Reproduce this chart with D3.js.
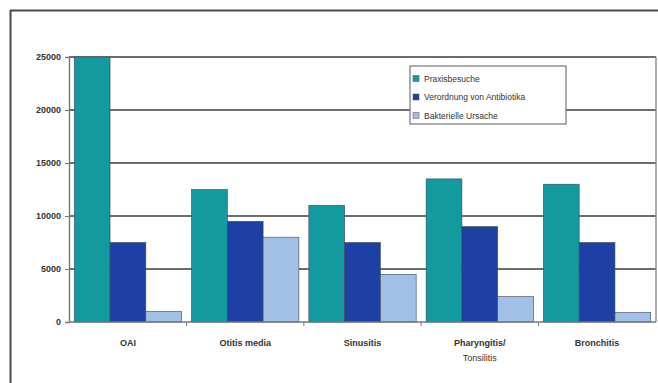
<!DOCTYPE html>
<html><head><meta charset="utf-8">
<script src="https://cdn.jsdelivr.net/npm/d3@7"></script>
<style>
html,body{margin:0;padding:0;background:#fff;}
svg{display:block;font-family:"Liberation Sans",Arial,sans-serif;}
</style></head>
<body>
<svg id="c" width="658" height="383"></svg>
<script>
const categories = ["OAI", "Otitis media", "Sinusitis", "Pharyngitis/\nTonsilitis", "Bronchitis"];
const seriesNames = ["Praxisbesuche", "Verordnung von Antibiotika", "Bakterielle Ursache"];
const praxisbesuche = [25000, 12500, 11000, 13500, 13000];
const antibiotika = [7500, 9500, 7500, 9000, 7500];
const bakteriell = [1000, 8000, 4500, 2400, 900];
const yTicks = [0, 5000, 10000, 15000, 20000, 25000];
const colors = ["#139a9e", "#1e40a4", "#a2bfe6"];

const series = [praxisbesuche, antibiotika, bakteriell];
const svg = d3.select("#c");
const L = 69, R = 656, T = 57, B = 322;

// outer frame (top and left only)
svg.append("line").attr("x1", 10).attr("x2", 658).attr("y1", 10.5).attr("y2", 10.5).attr("stroke", "#4a4a4a").attr("stroke-width", 2);
svg.append("line").attr("x1", 10.5).attr("x2", 10.5).attr("y1", 10).attr("y2", 383).attr("stroke", "#4a4a4a").attr("stroke-width", 2);

const y = d3.scaleLinear().domain([0, 25000]).range([B, T]);
const x0 = d3.scaleBand().domain(categories).range([L, R]).paddingInner(0.085).paddingOuter(0.045);
const x1 = d3.scaleBand().domain(d3.range(3)).range([0, x0.bandwidth()]);

// gridlines
svg.append("g").selectAll("line").data(yTicks.filter(d => d > 0)).join("line")
  .attr("x1", L).attr("x2", R).attr("y1", d => y(d)).attr("y2", d => y(d))
  .attr("stroke", "#6e6e6e").attr("stroke-width", 1.8);
// right border
svg.append("line").attr("x1", R).attr("x2", R).attr("y1", T).attr("y2", B).attr("stroke", "#8a8a8a").attr("stroke-width", 1.4);

// bars
const g = svg.append("g");
categories.forEach((c, i) => {
  series.forEach((s, j) => {
    g.append("rect")
      .attr("x", x0(c) + x1(j))
      .attr("y", y(s[i]))
      .attr("width", x1.bandwidth())
      .attr("height", B - y(s[i]))
      .attr("fill", colors[j])
      .attr("stroke", "#3a4a5a").attr("stroke-width", 0.6);
  });
});

// y axis
const yAxis = d3.axisLeft(y).tickValues(yTicks).tickSize(4).tickPadding(4).tickFormat(d3.format("d"));
const ya = svg.append("g").attr("transform", `translate(${L},0)`).call(yAxis);
ya.select(".domain").attr("stroke", "#777").attr("stroke-width", 1.4);
ya.selectAll(".tick line").attr("stroke", "#777");
ya.selectAll("text").attr("font-size", 9).attr("font-weight", "bold").attr("fill", "#333");

// x axis
const xa = svg.append("g").attr("transform", `translate(0,${B})`);
xa.append("line").attr("x1", L).attr("x2", R).attr("y1", 0).attr("y2", 0).attr("stroke", "#777").attr("stroke-width", 1.4);
const bounds = categories.map(c => x0(c) - x0.step() * x0.paddingInner() / 2).slice(1);
xa.selectAll(".tk").data(bounds).join("line").attr("class", "tk")
  .attr("x1", d => d).attr("x2", d => d).attr("y1", 0).attr("y2", 4).attr("stroke", "#777");
xa.selectAll(".lbl").data(categories).join("text").attr("class", "lbl")
  .attr("text-anchor", "middle").attr("font-size", 9).attr("font-weight", "bold").attr("fill", "#333")
  .attr("x", d => x0(d) + x0.bandwidth() / 2).attr("y", 24)
  .each(function(d) {
    const parts = d.split("\n");
    d3.select(this).selectAll("tspan").data(parts).join("tspan")
      .attr("x", x0(d) + x0.bandwidth() / 2)
      .attr("dy", (p, k) => k === 0 ? 0 : 15)
      .attr("font-weight", (p, k) => k === 0 ? "bold" : "normal")
      .text(p => p);
  });

// legend
const lg = svg.append("g").attr("transform", "translate(410,66)");
lg.append("rect").attr("width", 156).attr("height", 58).attr("fill", "#fff").attr("stroke", "#777").attr("stroke-width", 1.2);
seriesNames.forEach((n, j) => {
  const yy = 13 + j * 18.5;
  lg.append("rect").attr("x", 3).attr("y", yy - 3.5).attr("width", 6).attr("height", 6).attr("fill", colors[j]).attr("stroke", "#555").attr("stroke-width", 0.5);
  lg.append("text").attr("x", 14).attr("y", yy).attr("dy", "0.35em").attr("font-size", 8.5).attr("fill", "#333").text(n);
});
</script>
</body></html>
